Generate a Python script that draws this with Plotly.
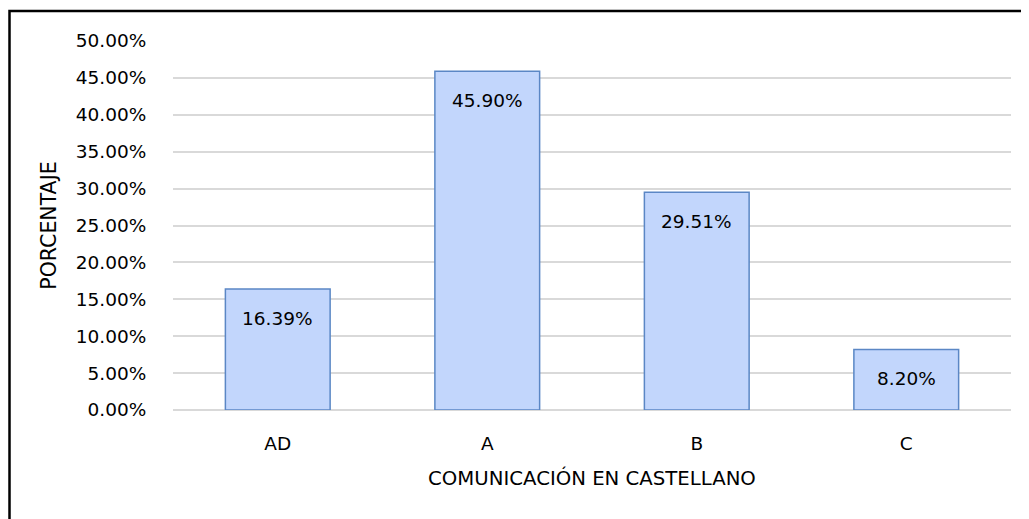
import plotly.graph_objects as go

categories = ["AD", "A", "B", "C"]
values = [16.39, 45.90, 29.51, 8.20]
tick_vals = [0, 5, 10, 15, 20, 25, 30, 35, 40, 45, 50]
tick_text = [f"{v:.2f}%" for v in tick_vals]

FONT = "DejaVu Sans"
FS = 18.5
OFF = 8  # page body margin
W, H = 1029 - OFF, 519 - OFF
L, R, T, B = 173 - OFF, 1029 - 1011, 41 - OFF, 519 - 410

fig = go.Figure()
fig.add_trace(go.Bar(
    x=categories, y=values,
    marker=dict(color="#c2d6fc", line=dict(color="#5b87c5", width=1.5)),
    hoverinfo="skip",
))

for c, v in zip(categories, values):
    fig.add_annotation(x=c, y=v, text=f"{v:.2f}%", showarrow=False,
                       yanchor="middle", yshift=-29,
                       font=dict(family=FONT, size=FS, color="#000000"))

pw = W - L - R
ph = H - T - B
fig.add_shape(type="rect", xref="paper", yref="paper",
              x0=(1.5 - L) / pw, x1=(W + 20 - L) / pw,
              y0=-(H + 20 - T - ph) / ph, y1=1 + (T - 3) / ph,
              line=dict(color="#000000", width=2.5), fillcolor="rgba(0,0,0,0)",
              layer="below")

fig.update_layout(
    width=W, height=H,
    margin=dict(l=L, r=R, t=T, b=B),
    paper_bgcolor="white", plot_bgcolor="white",
    bargap=0.5, showlegend=False,
    font=dict(family=FONT, size=FS, color="#000000"),
    xaxis=dict(
        title=dict(text="COMUNICACIÓN EN CASTELLANO", standoff=18,
                   font=dict(family=FONT, size=19.7)),
        showgrid=False, showline=False, zeroline=False,
        ticks="outside", ticklen=17, tickcolor="rgba(0,0,0,0)",
        tickfont=dict(family=FONT, size=FS),
    ),
    yaxis=dict(
        title=dict(text="PORCENTAJE", standoff=13, font=dict(family=FONT, size=20.5)),
        range=[0, 50], tickvals=tick_vals, ticktext=tick_text,
        showgrid=True, gridcolor="#d9d9d9", gridwidth=1.5,
        zeroline=True, zerolinecolor="#d9d9d9", zerolinewidth=1.5,
        showline=False,
        ticks="outside", ticklen=22, tickcolor="rgba(0,0,0,0)",
        tickfont=dict(family=FONT, size=FS),
    ),
)

fig.write_html("out.html")
